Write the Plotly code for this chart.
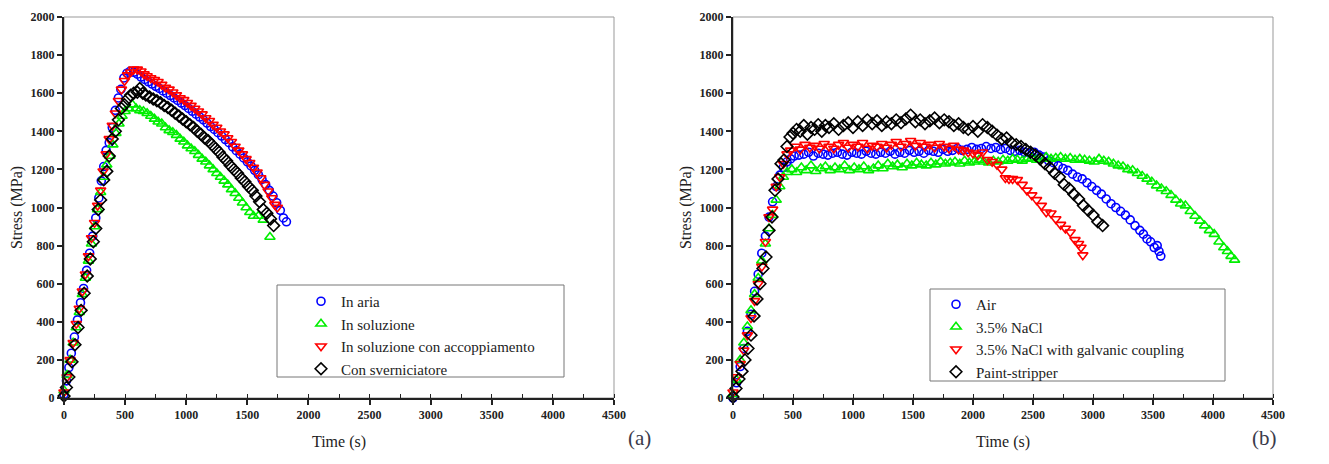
import plotly.graph_objects as go

# ---- data: (time s, stress MPa) ----
# panel (a)
a_aria = [(0, 20), (20, 90), (40, 160), (60, 235), (85, 320), (110, 410), (135, 500), (160, 575), (185, 670),
          (210, 760), (235, 850), (260, 945), (285, 1050), (305, 1140), (325, 1215), (345, 1300), (370, 1340),
          (395, 1420), (420, 1510), (445, 1575), (465, 1620), (490, 1680), (515, 1705), (540, 1715), (570, 1710),
          (600, 1700), (630, 1685), (660, 1672), (690, 1660), (720, 1648), (750, 1636), (780, 1625), (810, 1612),
          (840, 1600), (870, 1588), (900, 1575), (930, 1562), (960, 1548), (990, 1535), (1020, 1520), (1050, 1505),
          (1080, 1490), (1110, 1475), (1140, 1460), (1170, 1443), (1200, 1425), (1230, 1410), (1260, 1393),
          (1290, 1375), (1320, 1357), (1350, 1340), (1380, 1318), (1410, 1298), (1440, 1280), (1470, 1260),
          (1500, 1240), (1530, 1218), (1560, 1195), (1590, 1172), (1620, 1148), (1650, 1120), (1680, 1090),
          (1710, 1060), (1740, 1025), (1770, 985), (1795, 945), (1820, 925)]
a_soluzione = [(0, 40), (25, 120), (50, 200), (75, 290), (100, 370), (125, 450), (150, 545), (175, 630),
               (200, 720), (225, 810), (250, 900), (275, 990), (300, 1080), (325, 1160), (350, 1225), (375, 1270),
               (400, 1330), (425, 1390), (450, 1440), (475, 1480), (500, 1505), (530, 1520), (560, 1540),
               (590, 1520), (620, 1510), (650, 1505), (680, 1495), (710, 1480), (740, 1465), (770, 1450),
               (800, 1440), (830, 1420), (860, 1405), (890, 1395), (920, 1380), (950, 1360), (980, 1345),
               (1010, 1325), (1040, 1310), (1070, 1295), (1100, 1275), (1130, 1255), (1160, 1240), (1190, 1220),
               (1220, 1200), (1250, 1180), (1280, 1160), (1310, 1140), (1340, 1120), (1370, 1095), (1400, 1075),
               (1430, 1050), (1460, 1025), (1490, 1000), (1520, 975), (1550, 955), (1590, 955), (1630, 935),
               (1685, 845)]
a_accoppiamento = [(0, 30), (25, 110), (50, 200), (75, 290), (100, 390), (125, 470), (150, 560), (175, 650),
                   (200, 745), (225, 840), (250, 920), (275, 1010), (300, 1090), (320, 1190), (345, 1280),
                   (370, 1360), (395, 1430), (420, 1495), (445, 1560), (470, 1620), (495, 1665), (520, 1695),
                   (545, 1710), (570, 1725), (600, 1725), (630, 1715), (655, 1700), (680, 1690), (710, 1680),
                   (740, 1670), (770, 1660), (800, 1645), (830, 1630), (860, 1620), (890, 1605), (920, 1590),
                   (950, 1575), (980, 1565), (1010, 1550), (1040, 1535), (1070, 1520), (1100, 1505), (1130, 1490),
                   (1160, 1470), (1190, 1455), (1220, 1435), (1250, 1420), (1280, 1400), (1310, 1385),
                   (1340, 1365), (1370, 1345), (1400, 1320), (1430, 1300), (1460, 1280), (1490, 1255),
                   (1520, 1235), (1550, 1210), (1580, 1185), (1610, 1155), (1640, 1120), (1670, 1085),
                   (1700, 1050), (1725, 1015), (1745, 1000)]
a_sverniciatore = [(0, 10), (20, 55), (40, 110), (65, 190), (90, 280), (115, 370), (140, 460), (165, 550),
                   (190, 640), (215, 730), (240, 820), (260, 890), (280, 990), (300, 1040), (325, 1145),
                   (350, 1190), (370, 1270), (395, 1360), (420, 1400), (445, 1460), (470, 1520), (495, 1540),
                   (520, 1570), (545, 1590), (570, 1600), (600, 1605), (620, 1625), (645, 1600), (670, 1590),
                   (700, 1580), (730, 1570), (760, 1560), (790, 1550), (820, 1535), (850, 1525), (880, 1510),
                   (910, 1495), (940, 1480), (970, 1465), (1000, 1450), (1030, 1435), (1060, 1420), (1090, 1400),
                   (1120, 1385), (1150, 1365), (1180, 1350), (1210, 1330), (1240, 1310), (1270, 1290),
                   (1300, 1265), (1330, 1245), (1360, 1220), (1390, 1200), (1420, 1180), (1450, 1155),
                   (1480, 1135), (1510, 1110), (1540, 1090), (1570, 1060), (1600, 1030), (1630, 990),
                   (1660, 970), (1690, 940), (1715, 905)]

# panel (b)
b_air = [(0, 0), (30, 80), (60, 165), (90, 260), (120, 350), (150, 440), (180, 560), (210, 650), (240, 760),
         (270, 850), (300, 950), (330, 1030), (360, 1110), (390, 1170), (420, 1210), (450, 1240), (480, 1255),
         (510, 1270), (550, 1275), (590, 1280), (630, 1290), (670, 1270), (710, 1285), (750, 1280), (790, 1275),
         (830, 1285), (870, 1290), (910, 1280), (950, 1275), (990, 1290), (1030, 1285), (1070, 1280),
         (1110, 1295), (1150, 1285), (1190, 1280), (1230, 1290), (1270, 1285), (1310, 1295), (1350, 1280),
         (1390, 1290), (1430, 1285), (1470, 1300), (1510, 1290), (1550, 1295), (1590, 1285), (1630, 1300),
         (1670, 1295), (1710, 1290), (1750, 1305), (1790, 1295), (1830, 1300), (1870, 1310), (1910, 1300),
         (1950, 1305), (1990, 1315), (2030, 1305), (2070, 1310), (2110, 1320), (2150, 1310), (2190, 1315),
         (2230, 1305), (2270, 1310), (2310, 1300), (2350, 1295), (2390, 1300), (2430, 1290), (2470, 1285),
         (2510, 1290), (2550, 1275), (2590, 1265), (2630, 1245), (2670, 1235), (2710, 1220), (2750, 1205),
         (2790, 1195), (2830, 1175), (2870, 1160), (2910, 1150), (2950, 1130), (2990, 1110), (3030, 1090),
         (3070, 1070), (3110, 1045), (3150, 1020), (3190, 1000), (3230, 980), (3270, 960), (3310, 935),
         (3350, 905), (3390, 880), (3420, 860), (3450, 835), (3480, 820), (3510, 790), (3535, 800),
         (3550, 770), (3565, 745)]
b_nacl = [(0, 20), (30, 95), (60, 200), (90, 290), (120, 375), (150, 460), (180, 545), (210, 630), (240, 720),
          (270, 810), (300, 890), (330, 960), (360, 1040), (390, 1110), (420, 1160), (450, 1185), (490, 1200),
          (530, 1185), (570, 1210), (610, 1195), (650, 1220), (690, 1190), (730, 1205), (770, 1215), (810, 1195),
          (850, 1210), (890, 1200), (930, 1220), (970, 1195), (1010, 1210), (1050, 1200), (1090, 1215),
          (1130, 1195), (1170, 1205), (1210, 1220), (1250, 1205), (1290, 1230), (1330, 1215), (1370, 1225),
          (1410, 1210), (1450, 1230), (1490, 1220), (1530, 1235), (1570, 1225), (1610, 1220), (1650, 1235),
          (1690, 1225), (1730, 1240), (1770, 1230), (1810, 1235), (1850, 1240), (1890, 1230), (1930, 1245),
          (1970, 1235), (2010, 1240), (2050, 1250), (2090, 1240), (2130, 1235), (2170, 1245), (2210, 1240),
          (2250, 1250), (2290, 1245), (2330, 1255), (2370, 1250), (2410, 1245), (2450, 1255), (2490, 1260),
          (2530, 1250), (2570, 1255), (2610, 1265), (2650, 1255), (2690, 1260), (2730, 1265), (2770, 1255),
          (2810, 1260), (2850, 1250), (2890, 1255), (2930, 1250), (2970, 1245), (3010, 1240), (3050, 1255),
          (3090, 1245), (3130, 1240), (3170, 1230), (3210, 1220), (3250, 1215), (3290, 1200), (3330, 1195),
          (3370, 1180), (3410, 1165), (3450, 1150), (3490, 1135), (3530, 1115), (3570, 1100), (3610, 1085),
          (3650, 1065), (3690, 1040), (3730, 1020), (3770, 1010), (3810, 980), (3850, 955), (3890, 930),
          (3930, 905), (3970, 880), (4010, 860), (4050, 820), (4090, 790), (4120, 770), (4150, 745),
          (4180, 725)]
b_galvanic = [(0, 30), (30, 110), (60, 180), (90, 250), (120, 330), (150, 420), (180, 510), (210, 600),
              (240, 690), (270, 820), (300, 950), (330, 990), (360, 1110), (390, 1160), (420, 1230), (450, 1280),
              (480, 1300), (520, 1320), (560, 1305), (600, 1330), (640, 1315), (680, 1325), (720, 1310),
              (760, 1335), (800, 1320), (840, 1310), (880, 1330), (920, 1340), (960, 1315), (1000, 1330),
              (1040, 1320), (1080, 1340), (1120, 1310), (1160, 1325), (1200, 1320), (1240, 1335), (1280, 1315),
              (1320, 1330), (1360, 1345), (1400, 1320), (1440, 1335), (1480, 1350), (1520, 1325), (1560, 1340),
              (1600, 1320), (1640, 1330), (1680, 1315), (1720, 1335), (1760, 1320), (1800, 1310), (1840, 1325),
              (1880, 1305), (1920, 1300), (1960, 1290), (2000, 1285), (2040, 1275), (2080, 1290), (2120, 1250),
              (2160, 1240), (2200, 1225), (2240, 1200), (2270, 1155), (2300, 1150), (2330, 1150), (2370, 1145),
              (2410, 1120), (2450, 1090), (2490, 1065), (2530, 1040), (2570, 1010), (2610, 975), (2650, 970),
              (2690, 940), (2730, 910), (2770, 890), (2810, 870), (2850, 830), (2880, 810), (2900, 790),
              (2915, 750)]
b_stripper = [(0, 5), (25, 50), (50, 100), (75, 140), (100, 200), (125, 260), (150, 330), (175, 430), (200, 520),
              (225, 600), (250, 680), (275, 740), (300, 880), (325, 950), (350, 1090), (375, 1150), (400, 1230),
              (425, 1250), (450, 1320), (475, 1370), (500, 1390), (530, 1410), (560, 1400), (590, 1430),
              (620, 1385), (650, 1420), (680, 1410), (710, 1435), (740, 1400), (770, 1430), (800, 1420),
              (840, 1440), (880, 1410), (920, 1430), (960, 1445), (1000, 1420), (1040, 1450), (1080, 1430),
              (1120, 1460), (1160, 1440), (1200, 1455), (1240, 1430), (1280, 1450), (1320, 1440), (1360, 1460),
              (1400, 1445), (1440, 1465), (1480, 1485), (1520, 1450), (1560, 1460), (1600, 1440), (1640, 1455),
              (1680, 1470), (1720, 1445), (1760, 1460), (1800, 1450), (1840, 1430), (1880, 1440), (1920, 1420),
              (1960, 1410), (2000, 1425), (2040, 1400), (2080, 1435), (2120, 1420), (2160, 1400), (2200, 1380),
              (2240, 1360), (2280, 1365), (2320, 1340), (2360, 1330), (2400, 1320), (2440, 1305), (2480, 1290),
              (2520, 1275), (2560, 1255), (2600, 1230), (2640, 1210), (2680, 1180), (2720, 1160), (2760, 1120),
              (2800, 1100), (2840, 1070), (2880, 1045), (2920, 1010), (2960, 985), (3000, 960), (3040, 925),
              (3080, 905)]

labels_a = ["In aria", "In soluzione", "In soluzione con accoppiamento", "Con sverniciatore"]
labels_b = ["Air", "3.5% NaCl", "3.5% NaCl with galvanic coupling", "Paint-stripper"]
colors = ["#0000ff", "#00ee00", "#ff0000", "#000000"]
symbols = ["circle-open", "triangle-up-open", "triangle-down-open", "diamond-open"]
sizes = [8, 9, 9, 9]

W, H = 1329, 464
SERIF = "Liberation Serif"

fig = go.Figure()

for series, names, xa, ya, leg in [
        ([a_aria, a_soluzione, a_accoppiamento, a_sverniciatore], labels_a, "x", "y", "legend"),
        ([b_air, b_nacl, b_galvanic, b_stripper], labels_b, "x2", "y2", "legend2")]:
    for pts, name, col, sym, sz in zip(series, names, colors, symbols, sizes):
        fig.add_trace(go.Scatter(
            x=[p[0] for p in pts], y=[p[1] for p in pts], mode="markers", name=name,
            marker=dict(symbol=sym, size=sz, color=col, line=dict(color=col, width=1.6)),
            xaxis=xa, yaxis=ya, legend=leg, cliponaxis=False))

tickfont = dict(family=SERIF, size=12, color="#222", weight="bold")
titlefont = dict(family=SERIF, size=16, color="#222")


def xaxis(domain, anchor):
    return dict(domain=domain, anchor=anchor, range=[0, 4500], tick0=0, dtick=500, automargin=False,
                showline=True, linecolor="#222", linewidth=2, ticks="outside", ticklen=5,
                tickwidth=1.5, tickcolor="#222",
                minor=dict(ticks="inside", ticklen=4, dtick=250, tickcolor="#222", tickwidth=1),
                showgrid=False, zeroline=False, tickfont=tickfont,
                title=dict(text="Time (s)", font=titlefont, standoff=14))


def yaxis(domain, anchor):
    return dict(domain=domain, anchor=anchor, range=[0, 2000], tick0=0, dtick=200, automargin=False,
                showline=True, linecolor="#222", linewidth=2, ticks="outside", ticklen=5,
                tickwidth=1.5, tickcolor="#222",
                showgrid=False, zeroline=False, tickfont=tickfont,
                title=dict(text="Stress (MPa)", font=titlefont, standoff=4))


ydom = [1 - 398 / H, 1 - 17 / H]
legfont = dict(family=SERIF, size=15, color="#222")

fig.update_layout(
    width=W, height=H, margin=dict(l=0, r=0, t=0, b=0, autoexpand=False),
    plot_bgcolor="white", paper_bgcolor="white",
    xaxis=xaxis([64 / W, 614 / W], "y"), yaxis=yaxis(ydom, "x"),
    xaxis2=xaxis([733 / W, 1273 / W], "y2"), yaxis2=yaxis(ydom, "x2"),
    legend=dict(x=301 / W, y=1 - 285 / H, xanchor="left", yanchor="top", font=legfont,
                bgcolor="rgba(0,0,0,0)", borderwidth=0),
    legend2=dict(x=936 / W, y=1 - 288 / H, xanchor="left", yanchor="top", font=legfont,
                 bgcolor="rgba(0,0,0,0)", borderwidth=0),
)

# thin grey frame on top/right of each plot area, and the legend boxes
for xr, yr in [("x domain", "y domain"), ("x2 domain", "y2 domain")]:
    fig.add_shape(type="rect", xref=xr, yref=yr, x0=0, x1=1, y0=0, y1=1,
                  line=dict(color="#999", width=1), layer="below")
fig.add_shape(type="rect", xref="paper", yref="paper", x0=277 / W, x1=564 / W,
              y0=1 - 377 / H, y1=1 - 285 / H, line=dict(color="#777", width=1))
fig.add_shape(type="rect", xref="paper", yref="paper", x0=930 / W, x1=1225 / W,
              y0=1 - 381 / H, y1=1 - 289 / H, line=dict(color="#777", width=1))

for lab, xp in [("(a)", 639), ("(b)", 1279)]:
    fig.add_annotation(text=lab, x=xp / W, y=1 - 452 / H, xref="paper", yref="paper",
                       showarrow=False, font=dict(family=SERIF, size=21, color="#3a3a4a"))

# the page body has a default 8px margin; drop it so the figure fills the window
fig.write_html("out.html", config={"displayModeBar": False},
               post_script="document.body.style.margin='0';")
